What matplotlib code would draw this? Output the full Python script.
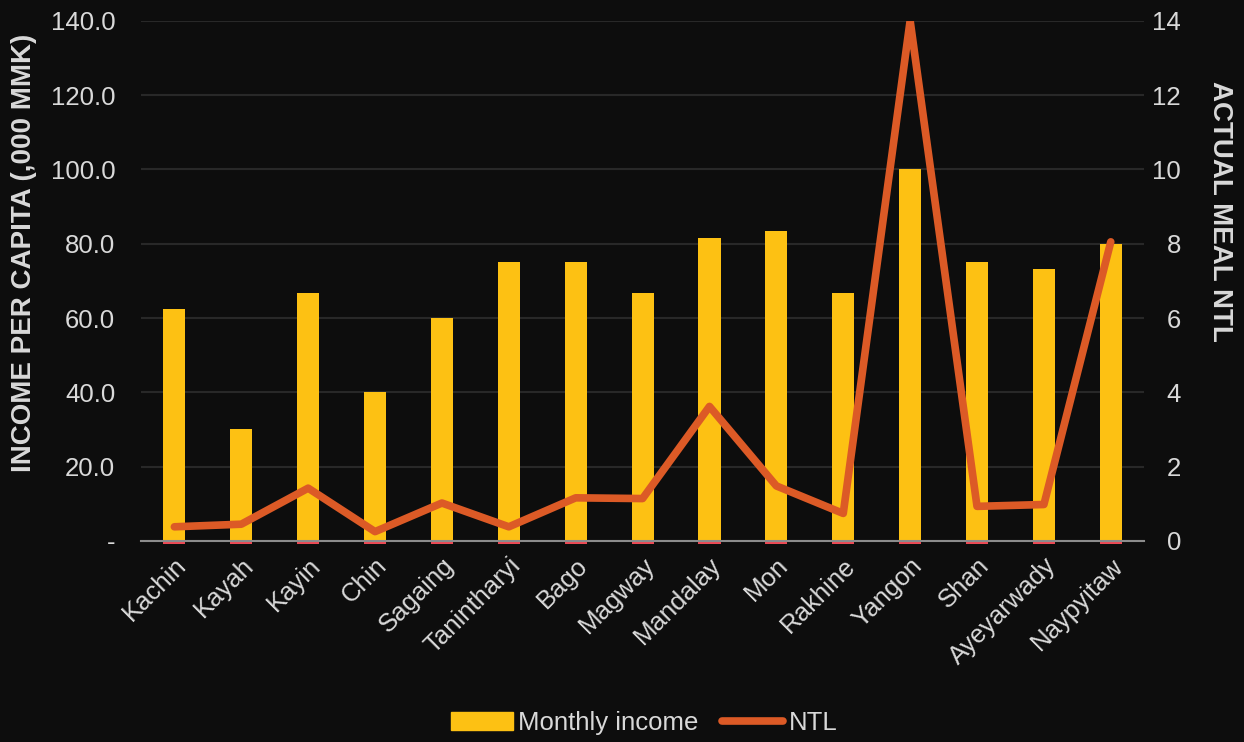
import numpy as np
import matplotlib.pyplot as plt
from matplotlib.lines import Line2D
from matplotlib.patches import Patch

plt.rcParams['font.family'] = ['Liberation Sans', 'DejaVu Sans']

regions = ['Kachin', 'Kayah', 'Kayin', 'Chin', 'Sagaing', 'Tanintharyi', 'Bago',
           'Magway', 'Mandalay', 'Mon', 'Rakhine', 'Yangon', 'Shan', 'Ayeyarwady',
           'Naypyitaw']
monthly_income = [62.5, 30, 66.7, 40, 60, 75, 75, 66.7, 81.5, 83.3, 66.7, 100, 75, 73.3, 80]
ntl = [0.38, 0.45, 1.42, 0.25, 1.02, 0.38, 1.16, 1.14, 3.62, 1.48, 0.74, 14.0, 0.93, 0.98, 8.05]

bg = '#0d0d0d'
txt = '#d9d9d9'
bar_col = '#fdc113'
line_col = '#dc5a26'
fs = 18.5

fig = plt.figure(figsize=(12.44, 7.42), dpi=100, facecolor=bg)
ax = fig.add_axes([0.1133, 0.271, 0.8065, 0.701], facecolor=bg)
ax2 = ax.twinx()

x = np.arange(len(regions))
ax.bar(x, monthly_income, width=0.33, color=bar_col, zorder=2)
# thin red foot under each bar
ax.bar(x, -0.75, width=0.33, color='#ec4a55', zorder=2, clip_on=False)

ax.set_xlim(-0.5, len(regions) - 0.5)
ax.set_ylim(0, 140)
ax.set_yticks(np.arange(0, 141, 20))
ax.set_yticklabels(['-'] + ['%.1f' % v for v in np.arange(20, 141, 20)])
ax.yaxis.grid(True, color='#282828', linewidth=1.5, zorder=0)
ax.set_axisbelow(True)

ax.set_xticks(x)
ax.set_xticklabels(regions, rotation=45, ha='right', va='top', rotation_mode='anchor')
ax.tick_params(axis='x', length=0, pad=9, labelsize=fs, labelcolor=txt)
ax.tick_params(axis='y', length=0, pad=18.5, labelsize=fs, labelcolor=txt)

for s in ['top', 'right', 'left']:
    ax.spines[s].set_visible(False)
ax.spines['bottom'].set_color('#8c8c8c')
ax.spines['bottom'].set_linewidth(1.5)
ax.spines['bottom'].set_zorder(3)

ax.set_ylabel('INCOME PER CAPITA (,000 MMK)', fontsize=20, fontweight='bold', color=txt)
ax.yaxis.set_label_coords(-0.104, 0.554)

ax2.plot(x, ntl, color=line_col, linewidth=5.5, solid_capstyle='round',
         solid_joinstyle='round', zorder=4)
ax2.set_ylim(0, 14)
ax2.set_yticks(np.arange(0, 15, 2))
ax2.tick_params(axis='y', length=0, pad=26.5, labelsize=fs, labelcolor=txt)
for lbl in ax2.get_yticklabels():
    lbl.set_ha('right')
for s in ax2.spines.values():
    s.set_visible(False)
ax2.set_ylabel('ACTUAL MEAL NTL', fontsize=20, fontweight='bold', color=txt, rotation=270)
ax2.yaxis.set_label_coords(1.088, 0.633)

handles = [Patch(color=bar_col, label='Monthly income'),
           Line2D([0], [0], color=line_col, linewidth=5.5, solid_capstyle='round', label='NTL')]
fig.legend(handles=handles, loc='center', bbox_to_anchor=(0.518, 0.026), ncol=2,
           frameon=False, fontsize=fs, labelcolor=txt, handlelength=2.4,
           handletextpad=0.2, columnspacing=0.9)

fig.savefig('out.png', dpi=100, facecolor=bg)
